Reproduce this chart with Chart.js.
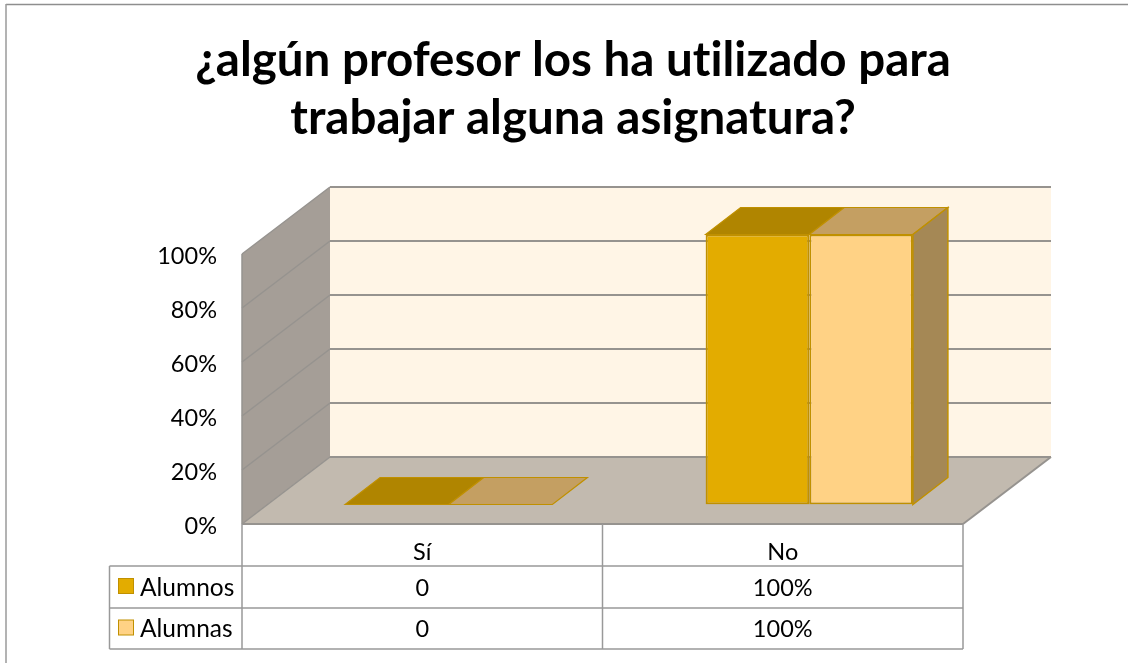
<!DOCTYPE html>
<html lang="es">
<head>
<meta charset="utf-8">
<title>Gráfico</title>
<script src="https://cdn.jsdelivr.net/npm/chart.js@4"></script>
<style>
    html, body { margin: 0; padding: 0; background: #fff; }
    #chart { display: block; }
</style>
</head>
<body>
<canvas id="chart" width="1128" height="663"></canvas>
<script>
    const titleLines = ['¿algún profesor los ha utilizado para', 'trabajar alguna asignatura?'];
    const categories = ['Sí', 'No'];
    const alumnos = [0, 100];
    const alumnas = [0, 100];
    const yTicks = [0, 20, 40, 60, 80, 100];

    const palette = {
        alumnos: '#E3AC00',
        alumnas: '#FFD285',
        alumnosTop: '#B08500',
        alumnasTop: '#C49F62',
        side: '#A58855',
        edge: '#C09000',
        wallBack: '#FFF5E6',
        wallLeft: '#A59E97',
        floor: '#C2BAAF',
        grid: '#96938F',
        table: '#999999',
    };

    const FONT = 'Lato, "Open Sans", sans-serif';
    // 3D offsets: whole depth of the box, and where the bars sit in it
    const DEPTH = { x: 88, y: -67 };
    const BAR_SHIFT = { x: 26.5, y: -19.5 };
    const BAR_DEPTH = { x: 35, y: -27 };

    function poly(ctx, pts, fill, stroke, width) {
        ctx.beginPath();
        pts.forEach(function (p, i) {
            if (i === 0) ctx.moveTo(p[0], p[1]);
            else ctx.lineTo(p[0], p[1]);
        });
        ctx.closePath();
        if (fill) {
            ctx.fillStyle = fill;
            ctx.fill();
        }
        if (stroke) {
            ctx.strokeStyle = stroke;
            ctx.lineWidth = width || 1;
            ctx.stroke();
        }
    }

    function line(ctx, x1, y1, x2, y2, color, width) {
        ctx.beginPath();
        ctx.moveTo(x1, y1);
        ctx.lineTo(x2, y2);
        ctx.strokeStyle = color;
        ctx.lineWidth = width;
        ctx.stroke();
    }

    const frame3d = {
        id: 'frame3d',
        beforeDraw(chart) {
            // a tiny spacing turns off the Lato "ti" ligature
            chart.ctx.letterSpacing = '0.01px';
        },
        beforeDatasetsDraw(chart) {
            const { ctx, chartArea: a, scales } = chart;
            const dx = DEPTH.x, dy = DEPTH.y;

            ctx.save();
            // outer frame of the picture
            line(ctx, 6, 4.5, 1128, 4.5, '#8E8E8E', 1.5);
            line(ctx, 6, 4, 6, 663, '#9A9A9A', 1.5);

            poly(ctx, [[a.left + dx, a.top + dy], [a.right + dx, a.top + dy], [a.right + dx, a.bottom + dy], [a.left + dx, a.bottom + dy]], palette.wallBack);
            poly(ctx, [[a.left, a.top], [a.left + dx, a.top + dy], [a.left + dx, a.bottom + dy], [a.left, a.bottom]], palette.wallLeft);
            poly(ctx, [[a.left, a.bottom], [a.left + dx, a.bottom + dy], [a.right + dx, a.bottom + dy], [a.right, a.bottom]], palette.floor);

            yTicks.forEach(function (t) {
                const y = scales.y.getPixelForValue(t);
                line(ctx, a.left, y, a.left + dx, y + dy, palette.grid, 1.5);
                line(ctx, a.left + dx, y + dy, a.right + dx, y + dy, palette.grid, 2);
            });
            line(ctx, a.left, a.top, a.left, a.bottom, palette.grid, 1.5);
            line(ctx, a.left, a.bottom, a.right, a.bottom, palette.grid, 2);
            line(ctx, a.right, a.bottom, a.right + dx, a.bottom + dy, palette.grid, 2);
            ctx.restore();

            // bars stand inside the box, not on its front plane
            ctx.save();
            ctx.translate(BAR_SHIFT.x, BAR_SHIFT.y);
            drawBarFaces(chart);
        },
        afterDatasetsDraw(chart) {
            chart.ctx.restore();
        },
    };

    function drawBarFaces(chart) {
        const ctx = chart.ctx;
        const dx = BAR_DEPTH.x, dy = BAR_DEPTH.y;
        const tops = [palette.alumnosTop, palette.alumnasTop];
        const last = chart.data.datasets.length - 1;

        chart.data.datasets.forEach(function (ds, i) {
            chart.getDatasetMeta(i).data.forEach(function (bar) {
                const left = bar.x - bar.width / 2;
                const right = bar.x + bar.width / 2;
                poly(ctx, [[left, bar.y], [left + dx, bar.y + dy], [right + dx, bar.y + dy], [right, bar.y]], tops[i], palette.edge, 1.2);
                if (i === last && bar.base - bar.y > 1) {
                    poly(ctx, [[right, bar.y], [right + dx, bar.y + dy], [right + dx, bar.base + dy], [right, bar.base]], palette.side, palette.edge, 1.5);
                }
            });
        });
    }

    const dataTable = {
        id: 'dataTable',
        afterDraw(chart) {
            const { ctx, chartArea: a, scales } = chart;
            const rows = [
                { label: 'Alumnos', values: alumnos, color: palette.alumnos, top: 566, bottom: 608 },
                { label: 'Alumnas', values: alumnas, color: palette.alumnas, top: 608, bottom: 649 },
            ];
            const tableLeft = 109.5;

            ctx.save();
            [566, 608, 649].forEach(function (y) {
                line(ctx, tableLeft, y, a.right, y, palette.table, 1.5);
            });
            line(ctx, tableLeft, 566, tableLeft, 649, palette.table, 1.5);
            [a.left, (a.left + a.right) / 2, a.right].forEach(function (x) {
                line(ctx, x, a.bottom, x, 649, palette.table, 1.5);
            });

            ctx.textBaseline = 'middle';
            rows.forEach(function (row) {
                const mid = (row.top + row.bottom) / 2;
                ctx.fillStyle = row.color;
                ctx.strokeStyle = palette.edge;
                ctx.lineWidth = 1;
                ctx.fillRect(118.5, mid - 8.5, 15, 15);
                ctx.strokeRect(118.5, mid - 8.5, 15, 15);

                ctx.fillStyle = '#000';
                ctx.textAlign = 'left';
                ctx.font = '24.5px ' + FONT;
                ctx.fillText(row.label, 140, mid + 1);
                ctx.textAlign = 'center';
                ctx.font = '23.5px ' + FONT;
                row.values.forEach(function (v, j) {
                    ctx.fillText(v === 0 ? '0' : v + '%', scales.x.getPixelForValue(j), mid + 1);
                });
            });
            ctx.restore();
        },
    };

    new Chart(document.getElementById('chart'), {
        type: 'bar',
        data: {
            labels: categories,
            datasets: [
                { label: 'Alumnos', data: alumnos, backgroundColor: palette.alumnos, borderColor: palette.edge, borderWidth: 2, borderSkipped: false },
                { label: 'Alumnas', data: alumnas, backgroundColor: palette.alumnas, borderColor: palette.edge, borderWidth: 2, borderSkipped: false },
            ],
        },
        options: {
            responsive: false,
            animation: false,
            categoryPercentage: 0.575,
            barPercentage: 1,
            layout: { padding: { left: 18, right: 0, top: 0, bottom: 0 } },
            plugins: {
                legend: { display: false },
                tooltip: { enabled: false },
                title: {
                    display: true,
                    text: titleLines,
                    color: '#000',
                    font: { family: FONT, size: 47.5, weight: 'bold', lineHeight: 1.221 },
                    padding: { top: 32, bottom: 106 },
                },
            },
            scales: {
                x: {
                    grid: { display: false },
                    border: { display: false },
                    ticks: { color: '#000', font: { family: FONT, size: 23.5 }, padding: 6 },
                    afterFit(scale) { scale.height = 139; },
                },
                y: {
                    min: 0,
                    max: 100,
                    afterBuildTicks(scale) { scale.ticks = yTicks.map(function (v) { return { value: v }; }); },
                    grid: { display: false, drawTicks: false },
                    border: { display: false },
                    ticks: {
                        color: '#000',
                        font: { family: FONT, size: 23.5 },
                        padding: 25,
                        labelOffset: 2,
                        callback(v) { return v + '%'; },
                    },
                    afterFit(scale) { scale.width = 224; },
                },
                // keeps the plot clear of the right side, where the box depth goes
                spacer: {
                    position: 'right',
                    grid: { display: false },
                    border: { display: false },
                    ticks: { display: false },
                    afterFit(scale) { scale.width = 165; },
                },
            },
        },
        plugins: [frame3d, dataTable],
    });
</script>
</body>
</html>
